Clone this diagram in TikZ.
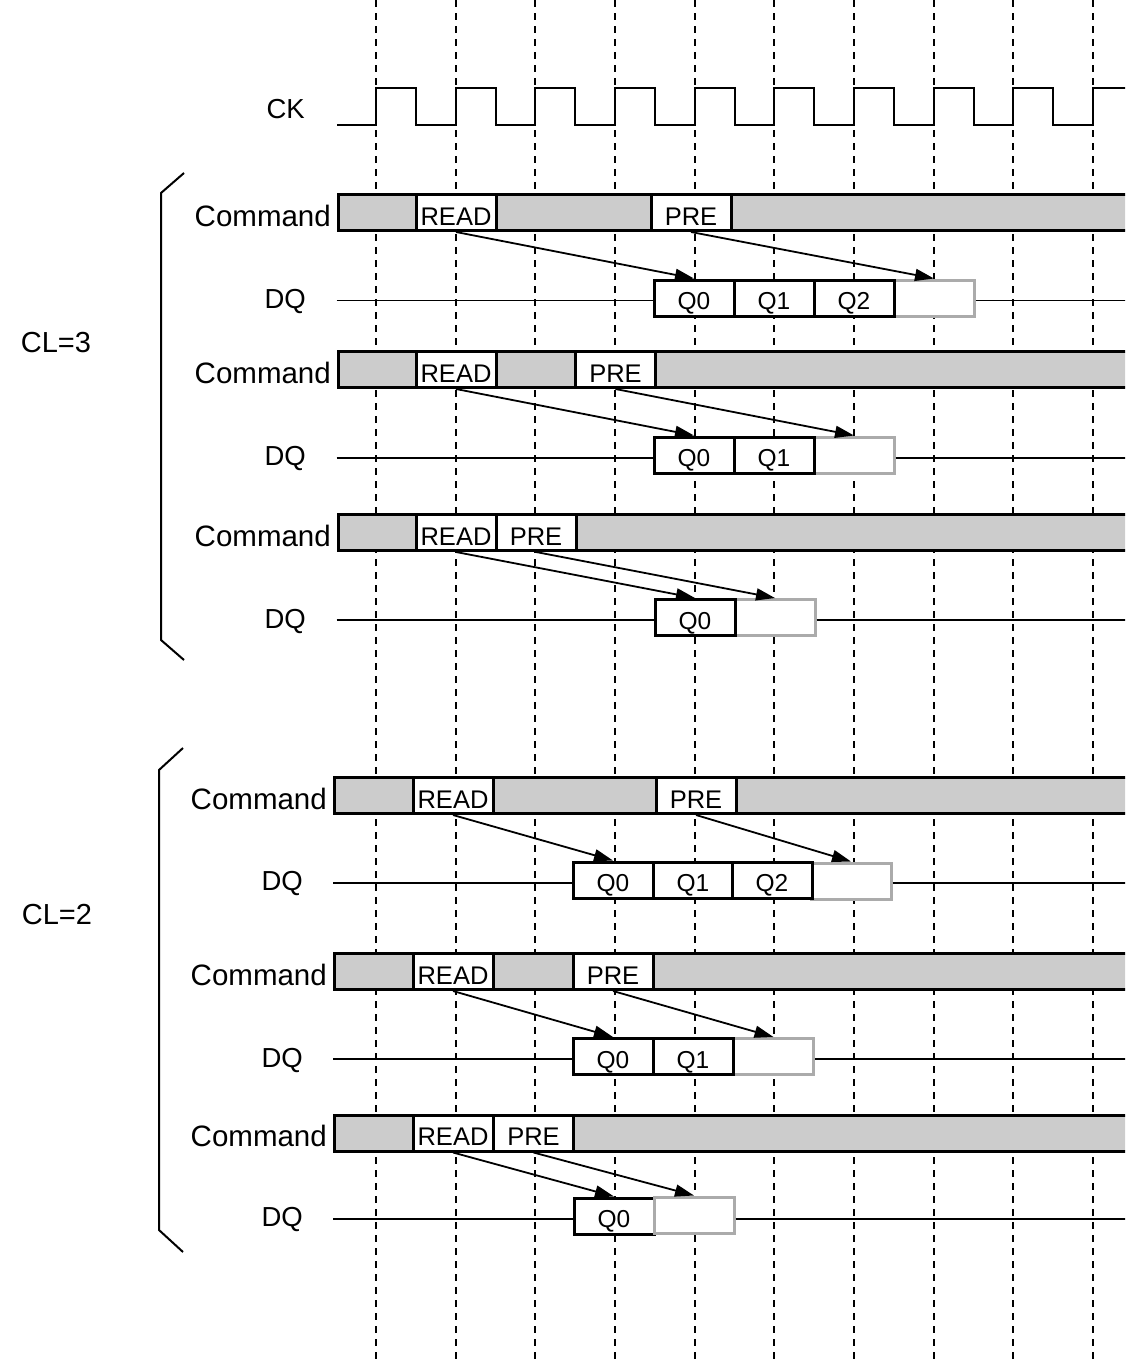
\documentclass[tikz,border=0pt]{standalone}
\usepackage{fontspec}
\setmainfont{Liberation Sans}
\usetikzlibrary{arrows.meta}
\definecolor{barfill}{HTML}{CCCCCC}
\definecolor{boxgray}{HTML}{ABABAB}

\begin{document}
\begin{tikzpicture}[x=1pt, y=-1pt,
    ckgrid/.style={line width=1.8pt, dash pattern=on 7pt off 6pt},
    wave/.style={line width=1.8pt},
    cmdbar/.style={draw, line width=3pt, fill=barfill, anchor=west, minimum width=800pt, minimum height=36pt, inner sep=0pt},
    cmdbox/.style={draw, line width=3pt, fill=white, minimum width=80pt, minimum height=36pt, inner sep=0pt, font=\fontsize{25.5pt}{25.5pt}\selectfont, text height=25pt, text depth=0pt},
    qbox/.style={cmdbox, font=\fontsize{24.5pt}{24.5pt}\selectfont, text height=23pt},
    nobox/.style={cmdbox, draw=boxgray},
    sig/.style={anchor=east, inner sep=0pt, font=\fontsize{27.5pt}{27.5pt}\selectfont, text height=21pt, text depth=0pt},
    cmdlbl/.style={sig, font=\fontsize{29.5pt}{29.5pt}\selectfont, text height=27pt},
    cl/.style={inner sep=0pt, font=\fontsize{29pt}{29pt}\selectfont},
    lat/.style={line width=1.8pt, -{Triangle[length=19pt, width=12pt]}},
    brace/.style={line width=2pt}]
    \useasboundingbox (0,0) rectangle (1125,1365);
    \clip (0,0) rectangle (1125,1365);

    % Fronti di clock
    \draw[ckgrid] (376,0) -- (376,1365);
    \draw[ckgrid] (456,0) -- (456,1365);
    \draw[ckgrid] (535,0) -- (535,1365);
    \draw[ckgrid] (615,0) -- (615,1365);
    \draw[ckgrid] (695,0) -- (695,1365);
    \draw[ckgrid] (774,0) -- (774,1365);
    \draw[ckgrid] (854,0) -- (854,1365);
    \draw[ckgrid] (934,0) -- (934,1365);
    \draw[ckgrid] (1013,0) -- (1013,1365);
    \draw[ckgrid] (1093,0) -- (1093,1365);

    % Clock
    \node[sig, text height=19.7pt] (ck) at (305,109) {CK};
    \draw[wave] (337,125) -- (376,125) -- (376,88) -- (416,88) -- (416,125) -- (456,125) -- (456,88) -- (496,88) -- (496,125)
        -- (535,125) -- (535,88) -- (575,88) -- (575,125) -- (615,125) -- (615,88) -- (655,88) -- (655,125)
        -- (695,125) -- (695,88) -- (735,88) -- (735,125) -- (774,125) -- (774,88) -- (814,88) -- (814,125)
        -- (854,125) -- (854,88) -- (894,88) -- (894,125) -- (934,125) -- (934,88) -- (974,88) -- (974,125)
        -- (1013,125) -- (1013,88) -- (1053,88) -- (1053,125) -- (1093,125) -- (1093,88) -- (1130,88);

    % CL=3, burst di 4
    \node[cmdlbl] (cmd1) at (331,212.5) {Command};
    \node[cmdbar] (bar1) at (336.5,212.5) {};
    \node[cmdbox] (rd1) at (456,212.5) {READ};
    \node[cmdbox] (pr1) at (691,212.5) {PRE};
    \node[sig] (dq1) at (306,298) {DQ};
    \node[nobox] (g1) at (934,298) {};
    \node[qbox] (q10) at (694,298) {Q0};
    \node[qbox] (q11) at (774,298) {Q1};
    \node[qbox] (q12) at (854,298) {Q2};
    \coordinate (dqs1) at (336.5,300.5);
    \coordinate (dqe1) at (1130,300.5);
    \draw[wave] (dqs1) -- (dqs1 -| q10.west);
    \draw[wave] (dqe1 -| g1.east) -- (dqe1);
    \draw[lat] (rd1.south) -- (q10.north);
    \draw[lat] (pr1.south) -- (g1.north);

    % CL=3, burst di 2
    \node[cmdlbl] (cmd2) at (331,369.5) {Command};
    \node[cmdbar] (bar2) at (336.5,369.5) {};
    \node[cmdbox] (rd2) at (456,369.5) {READ};
    \node[cmdbox] (pr2) at (615.5,369.5) {PRE};
    \node[sig] (dq2) at (306,455) {DQ};
    \node[nobox] (g2) at (854,455) {};
    \node[qbox] (q20) at (694,455) {Q0};
    \node[qbox] (q21) at (774,455) {Q1};
    \coordinate (dqs2) at (336.5,458);
    \coordinate (dqe2) at (1130,458);
    \draw[wave] (dqs2) -- (dqs2 -| q20.west);
    \draw[wave] (dqe2 -| g2.east) -- (dqe2);
    \draw[lat] (rd2.south) -- (q20.north);
    \draw[lat] (pr2.south) -- (g2.north);

    % CL=3, burst di 1
    \node[cmdlbl] (cmd3) at (331,532.5) {Command};
    \node[cmdbar] (bar3) at (336.5,532.5) {};
    \node[cmdbox] (rd3) at (456,532.5) {READ};
    \node[cmdbox] (pr3) at (536,532.5) {PRE};
    \node[sig] (dq3) at (306,617.5) {DQ};
    \node[nobox] (g3) at (775,617.5) {};
    \node[qbox] (q30) at (695,617.5) {Q0};
    \coordinate (dqs3) at (336.5,620);
    \coordinate (dqe3) at (1130,620);
    \draw[wave] (dqs3) -- (dqs3 -| q30.west);
    \draw[wave] (dqe3 -| g3.east) -- (dqe3);
    \draw[lat] (rd3.south) -- (q30.north);
    \draw[lat] (pr3.south) -- (g3.north);

    % Parentesi CL=3
    \node[cl] (cl3) at (56,343) {CL=3};
    \draw[brace] (184,173) -- (161,193) -- (161,640) -- (184,660);

    % CL=2, burst di 4
    \node[cmdlbl] (cmd4) at (327,795.5) {Command};
    \node[cmdbar] (bar4) at (333,795.5) {};
    \node[cmdbox] (rd4) at (453,795.5) {READ};
    \node[cmdbox] (pr4) at (696,795.5) {PRE};
    \node[sig] (dq4) at (303,880) {DQ};
    \node[nobox] (g4) at (851,881) {};
    \node[qbox] (q40) at (613,880) {Q0};
    \node[qbox] (q41) at (693,880) {Q1};
    \node[qbox] (q42) at (772,880) {Q2};
    \coordinate (dqs4) at (333,883);
    \coordinate (dqe4) at (1130,883);
    \draw[wave] (dqs4) -- (dqs4 -| q40.west);
    \draw[wave] (dqe4 -| g4.east) -- (dqe4);
    \draw[lat] (rd4.south) -- (q40.north);
    \draw[lat] (pr4.south) -- (g4.north);

    % CL=2, burst di 2
    \node[cmdlbl] (cmd5) at (327,971.5) {Command};
    \node[cmdbar] (bar5) at (333,971.5) {};
    \node[cmdbox] (rd5) at (453,971.5) {READ};
    \node[cmdbox] (pr5) at (613,971.5) {PRE};
    \node[sig] (dq5) at (303,1056.5) {DQ};
    \node[nobox] (g5) at (773.5,1056.5) {};
    \node[qbox] (q50) at (613,1056.5) {Q0};
    \node[qbox] (q51) at (693,1056.5) {Q1};
    \coordinate (dqs5) at (333,1059);
    \coordinate (dqe5) at (1130,1059);
    \draw[wave] (dqs5) -- (dqs5 -| q50.west);
    \draw[wave] (dqe5 -| g5.east) -- (dqe5);
    \draw[lat] (rd5.south) -- (q50.north);
    \draw[lat] (pr5.south) -- (g5.north);

    % CL=2, burst di 1
    \node[cmdlbl] (cmd6) at (327,1133) {Command};
    \node[cmdbar] (bar6) at (333,1133) {};
    \node[cmdbox] (rd6) at (453,1133) {READ};
    \node[cmdbox] (pr6) at (533.5,1133) {PRE};
    \node[sig] (dq6) at (303,1216) {DQ};
    \node[qbox] (q60) at (614,1216) {Q0};
    \node[nobox] (g6) at (694,1215) {};
    \coordinate (dqs6) at (333,1219);
    \coordinate (dqe6) at (1130,1219);
    \draw[wave] (dqs6) -- (dqs6 -| q60.west);
    \draw[wave] (dqe6 -| g6.east) -- (dqe6);
    \draw[lat] (rd6.south) -- (q60.north);
    \draw[lat] (pr6.south) -- (g6.north);

    % Parentesi CL=2
    \node[cl] (cl2) at (57,915) {CL=2};
    \draw[brace] (183,748) -- (159,770) -- (159,1230) -- (183,1252);
\end{tikzpicture}
\end{document}
